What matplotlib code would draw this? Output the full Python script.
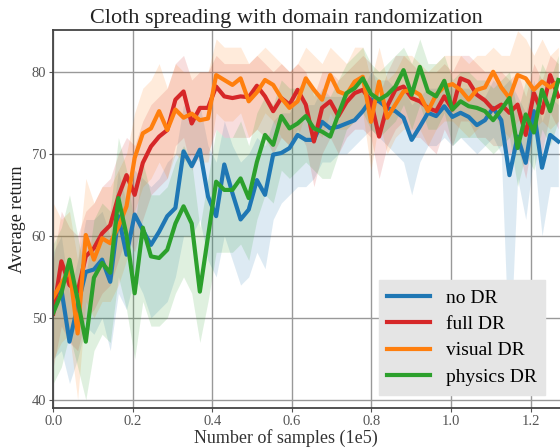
import numpy as np
import matplotlib
matplotlib.use('Agg')
import matplotlib.pyplot as plt

plt.rcParams['font.family'] = ['Liberation Serif', 'DejaVu Serif']

# one point every 2048 samples (x in units of 1e5 samples)
n_points = 63
step = 0.02048

no_dr = [52.5, 53.5, 47.1, 51.5, 55.6, 55.9, 57.1, 54.4, 62.4, 57.7, 62.6, 60.7, 58.9, 60.5, 62.4, 63.4,
         70.3, 68.5, 70.5, 64.8, 62.4, 68.7, 65.2, 62.0, 63.2, 66.8, 65.0, 69.9, 70.1, 70.7, 72.3, 71.7,
         71.7, 73.9, 73.1, 73.3, 73.7, 74.1, 75.2, 76.6, 76.4, 75.6, 75.2, 74.4, 71.7, 73.3, 75.0, 74.6,
         75.8, 74.5, 75.0, 74.5, 73.5, 74.1, 75.6, 74.1, 67.4, 72.1, 68.9, 75.2, 68.3, 72.3, 71.5]
no_dr_lo = [45, 46, 42, 45, 49, 48, 50, 46, 53, 51, 55, 53, 50, 51, 52, 55,
            60, 60, 62, 57, 55, 60, 57, 54, 55, 58, 56, 62, 64, 65, 66, 66,
            67, 69, 69, 70, 70, 71, 72, 73, 72, 71, 70, 69, 65, 69, 71, 71,
            72, 71, 72, 71, 70, 71, 72, 70, 44, 67, 62, 70, 60, 66, 66]
no_dr_hi = [58, 60, 53, 57, 62, 62, 63, 60, 68, 64, 68, 67, 66, 67, 69, 70,
            76, 74, 76, 71, 69, 74, 71, 69, 70, 72, 71, 74, 75, 75, 77, 76,
            76, 78, 77, 77, 77, 78, 78, 80, 79, 79, 78, 78, 76, 77, 78, 78,
            79, 78, 78, 78, 77, 77, 79, 78, 79, 77, 75, 79, 74, 77, 76]

full_dr = [50.5, 56.9, 54.0, 53.2, 57.5, 58.5, 60.3, 61.3, 64.8, 67.4, 65.0, 68.9, 70.9, 72.1, 72.9, 76.6,
           77.6, 73.7, 75.6, 75.6, 78.2, 77.0, 76.8, 77.0, 76.9, 78.3, 77.0, 75.2, 76.8, 76.0, 77.8, 76.0,
           71.5, 75.6, 76.4, 74.6, 76.3, 77.4, 77.8, 76.4, 72.1, 75.8, 77.8, 78.2, 76.8, 76.4, 75.6, 75.2,
           77.0, 75.4, 79.2, 78.8, 77.2, 76.5, 75.4, 76.0, 75.0, 76.0, 72.3, 77.4, 75.0, 79.6, 77.0]
full_dr_lo = [44, 49, 47, 46, 50, 51, 53, 54, 57, 60, 58, 62, 65, 66, 67, 71,
              72, 68, 70, 70, 73, 72, 72, 72, 72, 73, 72, 70, 72, 71, 73, 71,
              66, 70, 72, 70, 72, 73, 73, 72, 67, 71, 73, 74, 72, 72, 71, 70,
              73, 71, 74, 74, 72, 72, 71, 71, 70, 71, 67, 73, 70, 75, 73]
full_dr_hi = [57, 63, 61, 60, 63, 64, 66, 67, 70, 72, 71, 74, 76, 77, 78, 81,
              82, 79, 80, 80, 82, 81, 81, 81, 81, 82, 81, 80, 81, 80, 81, 80,
              77, 80, 80, 79, 80, 81, 82, 81, 77, 80, 82, 82, 81, 80, 80, 80,
              81, 80, 82, 82, 81, 80, 80, 80, 79, 80, 77, 81, 79, 82, 81]

visual_dr = [52.5, 54.2, 55.9, 48.1, 60.1, 57.1, 59.7, 59.1, 61.1, 63.6, 69.5, 72.5, 73.1, 75.2, 72.9, 75.4,
             74.4, 74.9, 74.1, 74.3, 79.6, 79.0, 78.4, 79.2, 76.4, 77.5, 79.0, 78.4, 76.8, 75.6, 76.4, 79.2,
             77.8, 76.6, 79.6, 77.6, 77.2, 78.8, 79.4, 73.9, 78.8, 74.4, 76.0, 77.6, 77.8, 77.2, 75.2, 77.2,
             78.2, 78.5, 77.8, 76.6, 77.8, 78.1, 80.0, 78.1, 76.8, 79.6, 79.2, 77.8, 78.8, 78.1, 78.8]
visual_dr_lo = [45, 47, 48, 40, 52, 50, 52, 52, 54, 57, 63, 66, 67, 69, 67, 70,
                69, 70, 69, 69, 75, 74, 74, 75, 72, 73, 75, 74, 72, 71, 72, 75,
                73, 72, 75, 73, 73, 74, 75, 68, 74, 70, 72, 73, 73, 73, 71, 73,
                74, 74, 73, 72, 73, 74, 75, 73, 72, 74, 74, 73, 74, 73, 74]
visual_dr_hi = [64, 62, 63, 57, 67, 64, 66, 66, 68, 70, 75, 78, 79, 81, 78, 81,
                80, 80, 80, 80, 84, 83, 83, 83, 81, 82, 83, 82, 81, 80, 81, 83,
                82, 81, 83, 82, 81, 83, 83, 79, 83, 79, 80, 82, 82, 81, 80, 81,
                82, 82, 82, 81, 82, 82, 83, 82, 82, 85, 84, 82, 84, 82, 83]

physics_dr = [50.6, 53.0, 57.1, 52.2, 47.1, 54.9, 56.7, 55.5, 64.6, 60.1, 53.0, 61.0, 57.5, 57.3, 58.3, 61.5,
              63.6, 61.5, 53.2, 59.9, 66.6, 65.6, 65.6, 67.0, 64.6, 69.0, 72.3, 71.1, 74.6, 73.1, 73.7, 74.6,
              73.1, 72.7, 72.1, 74.8, 77.4, 78.0, 79.2, 77.3, 76.6, 77.2, 78.2, 80.2, 77.2, 80.6, 77.6, 77.0,
              78.9, 75.4, 76.4, 75.8, 75.6, 75.2, 74.1, 75.4, 76.8, 70.7, 74.8, 72.6, 77.8, 75.2, 79.0]
physics_dr_lo = [42, 44, 48, 44, 40, 46, 48, 47, 55, 51, 45, 52, 49, 49, 50, 53,
                 55, 53, 47, 52, 58, 58, 58, 59, 57, 62, 65, 64, 68, 67, 68, 69,
                 68, 67, 67, 70, 73, 74, 75, 73, 72, 73, 74, 76, 73, 76, 73, 73,
                 75, 71, 72, 72, 72, 71, 70, 71, 72, 66, 70, 68, 73, 71, 74]
physics_dr_hi = [59, 61, 65, 60, 55, 62, 64, 63, 72, 68, 61, 69, 65, 65, 66, 69,
                 71, 69, 61, 67, 73, 72, 72, 74, 71, 75, 77, 76, 79, 78, 78, 79,
                 78, 77, 77, 79, 81, 82, 83, 81, 80, 81, 82, 83, 81, 84, 81, 81,
                 82, 79, 80, 80, 79, 79, 78, 79, 80, 75, 79, 77, 81, 79, 82]

x = np.arange(n_points) * step

series = [
    ('no DR', no_dr, no_dr_lo, no_dr_hi, '#1f77b4'),
    ('full DR', full_dr, full_dr_lo, full_dr_hi, '#d62728'),
    ('visual DR', visual_dr, visual_dr_lo, visual_dr_hi, '#ff7f0e'),
    ('physics DR', physics_dr, physics_dr_lo, physics_dr_hi, '#2ca02c'),
]

fig = plt.figure(figsize=(5.6, 4.47), dpi=100)
ax = fig.add_axes([0.095, 0.087, 0.905, 0.846])

for label, y, lo, hi, c in series:
    ax.fill_between(x, lo, hi, color=c, alpha=0.15, linewidth=0)
for label, y, lo, hi, c in series:
    ax.plot(x, y, color=c, linewidth=3, label=label)

ax.set_xlim(0, 1.274)
ax.set_ylim(39, 85.1)
ax.set_xticks([0.0, 0.2, 0.4, 0.6, 0.8, 1.0, 1.2])
ax.set_yticks([40, 50, 60, 70, 80])
ax.grid(True, color='#999999', linewidth=1)
ax.set_axisbelow(True)
ax.tick_params(labelsize=10.5, labelcolor='#555555', color='#555555', length=3, pad=2)
for s in ['left', 'bottom', 'top']:
    ax.spines[s].set_color('#444444')
    ax.spines[s].set_linewidth(1.3)
ax.spines['right'].set_visible(False)

ax.set_title('Cloth spreading with domain randomization', fontsize=16, color='#222222',
             x=0.46, pad=5)
ax.set_xlabel('Number of samples (1e5)', fontsize=13, color='#333333', labelpad=0)
ax.xaxis.set_label_coords(0.46, -0.055)
ax.set_ylabel('Average return', fontsize=13, color='#222222', labelpad=4)

leg = ax.legend(loc='lower right', bbox_to_anchor=(0.99, 0.01), fontsize=14,
                frameon=True, facecolor='#e5e5e5', edgecolor='#e5e5e5', framealpha=1,
                handlelength=2.2, borderpad=0.45, labelspacing=0.45, fancybox=False)

plt.savefig('out.png', dpi=100)
